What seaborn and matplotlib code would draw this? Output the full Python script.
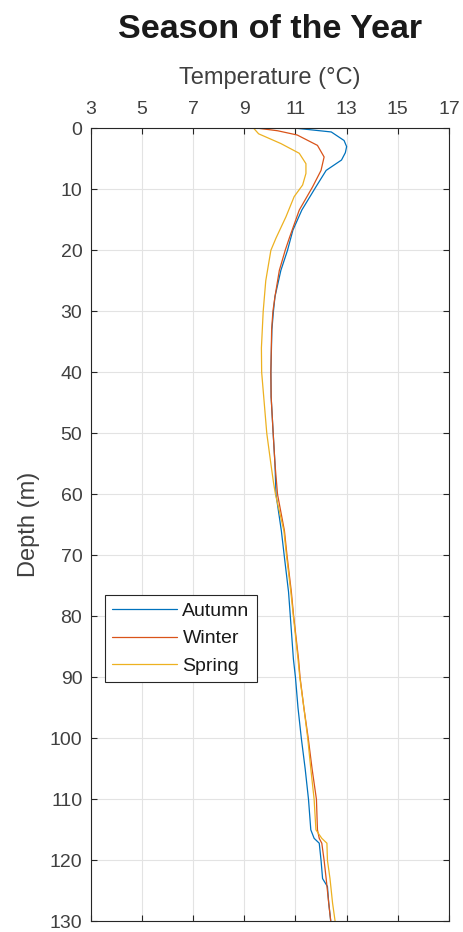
import pandas as pd
import matplotlib
matplotlib.use("Agg")
import matplotlib.pyplot as plt
import seaborn as sns

# Temperature profiles
autumn_depth = [0, 0.6, 2, 3, 4, 5.2, 6.9, 9.6, 13.4, 16.7, 20, 23.3, 27.6, 30, 33, 40, 44, 50, 55, 60,
                66, 70, 76, 80, 87, 90, 95, 100, 105, 110, 115, 116.4, 117.2, 120, 123, 124.3, 127, 130]
autumn_temp = [11.05, 12.4, 12.9, 13.0, 12.95, 12.8, 12.2, 11.8, 11.25, 10.9, 10.69, 10.43, 10.2, 10.14,
               10.08, 10.04, 10.05, 10.13, 10.2, 10.24, 10.45, 10.56, 10.73, 10.8, 10.92, 11.0, 11.1,
               11.23, 11.38, 11.51, 11.6, 11.73, 11.93, 12.0, 12.06, 12.25, 12.3, 12.38]

winter_depth = [0, 0.4, 1.1, 2.8, 4.7, 6.9, 9.6, 13.4, 18, 20, 23.3, 27.6, 30, 33, 40, 44, 50, 55, 60,
                66, 70, 76, 80, 87, 90, 95, 100, 105, 110, 115, 116.4, 117.2, 120, 123, 127, 130]
winter_temp = [9.56, 10.3, 11.07, 11.86, 12.12, 12.0, 11.67, 11.15, 10.76, 10.6, 10.37, 10.2, 10.12,
               10.07, 10.04, 10.05, 10.13, 10.2, 10.3, 10.57, 10.67, 10.84, 10.93, 11.12, 11.18, 11.33,
               11.5, 11.65, 11.82, 11.86, 11.93, 12.03, 12.12, 12.2, 12.3, 12.38]

spring_depth = [0, 0.9, 2.5, 4.1, 5.8, 7.4, 9.3, 11.2, 14.5, 18, 20, 25, 30, 36, 40, 45, 50, 55, 58, 60,
                66, 70, 76, 80, 87, 90, 95, 100, 105, 110, 115, 116.4, 117.2, 120, 123, 127, 130]
spring_temp = [9.37, 9.56, 10.43, 11.15, 11.41, 11.41, 11.28, 10.95, 10.63, 10.24, 10.04, 9.84, 9.74,
               9.67, 9.68, 9.78, 9.88, 10.04, 10.14, 10.22, 10.55, 10.65, 10.82, 10.92, 11.1, 11.17,
               11.33, 11.48, 11.6, 11.73, 11.8, 12.03, 12.23, 12.25, 12.35, 12.45, 12.55]

seasons = ["Autumn", "Winter", "Spring"]
colors = ["#0072BD", "#D95319", "#EDB120"]

frames = []
for name, d, t in zip(seasons, [autumn_depth, winter_depth, spring_depth],
                      [autumn_temp, winter_temp, spring_temp]):
    frames.append(pd.DataFrame({"season": name, "depth": d, "temp": t}))
df = pd.concat(frames, ignore_index=True)

sns.set_theme(style="whitegrid")
plt.rcParams["font.family"] = ["Liberation Sans", "DejaVu Sans"]

fig = plt.figure(figsize=(4.64, 9.32), dpi=100)
ax = fig.add_axes([90.7 / 464, 1 - 921.3 / 932, (449 - 90.7) / 464, (921.3 - 128.3) / 932])

sns.lineplot(data=df, x="temp", y="depth", hue="season", hue_order=seasons,
             palette=colors, sort=False, orient="y", estimator=None,
             linewidth=0.9, ax=ax)

ax.set_xlim(3, 17)
ax.set_ylim(130, 0)
ax.set_xticks(range(3, 18, 2))
ax.set_yticks(range(0, 131, 10))

ax.xaxis.set_label_position("top")
ax.xaxis.tick_top()
ax.tick_params(axis="both", which="both", direction="in", length=4, width=0.8,
               colors="#262626", labelsize=14, top=True, bottom=True, left=True, right=True,
               labeltop=True, labelbottom=False, labelleft=True, labelright=False, pad=6)
ax.tick_params(axis="x", pad=7.5)
for lab in ax.get_xticklabels() + ax.get_yticklabels():
    lab.set_color("#404040")

ax.set_xlabel("Temperature (°C)", fontsize=17, color="#404040", labelpad=12)
ax.set_ylabel("Depth (m)", fontsize=17, color="#404040", labelpad=7)

# title centred over the axes, as in the reference
pos = ax.get_position()
fig.text(pos.x0 + pos.width / 2, 1 - 30 / 932, "Season of the Year", ha="center", va="center",
         fontsize=24.5, fontweight="bold", color="#1a1a1a")

ax.grid(True, color="#e3e3e3", linewidth=0.8)
for s in ax.spines.values():
    s.set_color("#262626")
    s.set_linewidth(0.8)

leg = ax.legend(loc="upper left", bbox_to_anchor=(0.04, 0.4115), borderaxespad=0,
                fontsize=14, handlelength=3.3, handletextpad=0.3, labelspacing=0.5,
                fancybox=False, framealpha=1, edgecolor="#262626", borderpad=0.38)
leg.get_frame().set_linewidth(0.8)
for txt in leg.get_texts():
    txt.set_color("#1a1a1a")

fig.savefig("out.png", dpi=100)
